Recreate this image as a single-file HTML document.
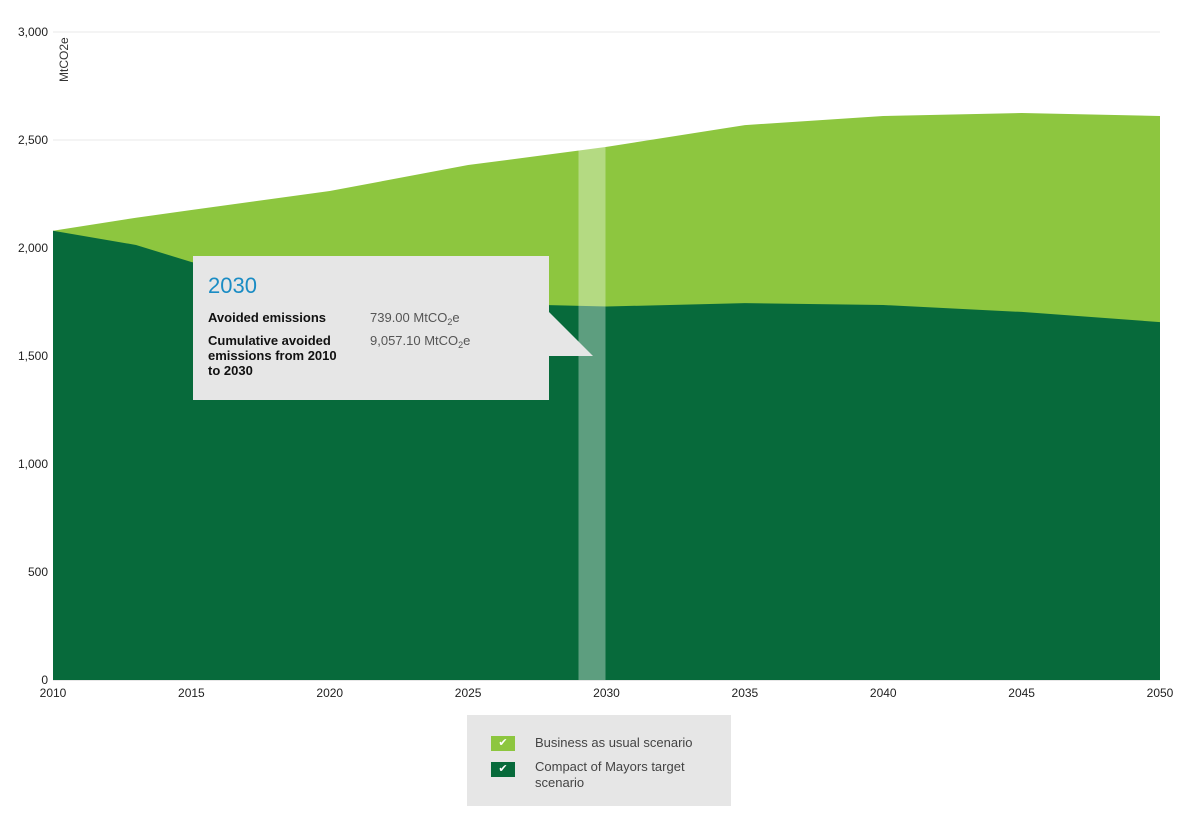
<!DOCTYPE html>
<html><head><meta charset="utf-8"><style>
body{margin:0;background:#fff;font-family:"Liberation Sans","DejaVu Sans",sans-serif;}
#wrap{position:relative;width:1189px;height:837px;overflow:hidden;}
svg text{font-family:"Liberation Sans","DejaVu Sans",sans-serif;}
</style></head><body><div id="wrap">
<svg id="chart" width="1189" height="837"></svg>
</div>
<script>
const years=[2010,2013,2015,2020,2025,2030,2035,2040,2045,2050];
const bau=[2080,2140,2176,2264,2384,2468,2569,2611,2625,2611];
const com=[2080,2014,1935,1800,1745,1729,1745,1736,1704,1657];
const yTicks=[0,500,1000,1500,2000,2500,3000];
const xTicks=[2010,2015,2020,2025,2030,2035,2040,2045,2050];
const NS='http://www.w3.org/2000/svg';
const svg=document.getElementById('chart');
const X=v=>53+(v-2010)*(1160-53)/40;
const Y=v=>680-v*(648/3000);
function el(t,a,p){const e=document.createElementNS(NS,t);for(const k in a)e.setAttribute(k,a[k]);(p||svg).appendChild(e);return e;}
yTicks.forEach(t=>{
 const l=el('line',{x1:53,x2:1160,y1:Y(t),y2:Y(t),stroke:t==0?'#ccc':'#e8e8e8','stroke-width':1});
 
 
 const tx=el('text',{x:48,y:Y(t)+4,'text-anchor':'end','font-size':12,fill:'#222'});tx.textContent=t.toLocaleString('en-US');
 
 
});
function area(vals,fill,name){
 let d='M'+X(years[0])+','+Y(0);
 years.forEach((y,i)=>d+=' L'+X(y)+','+Y(vals[i]));
 d+=' L'+X(years[years.length-1])+','+Y(0)+'Z';
 const p=el('path',{d:d,fill:fill});
 
 
}
area(bau,'#8dc63f','bau-area');
area(com,'#076a3b','com-area');
xTicks.forEach(t=>{
 const tx=el('text',{x:X(t),y:697,'text-anchor':'middle','font-size':12,fill:'#222'});tx.textContent=t;
 
 
});
const yt=el('text',{transform:'translate(68,82) rotate(-90)','font-size':12,fill:'#333'});yt.textContent='MtCO2e';


const hi=5;const hb=el('rect',{x:X(2030)-28,y:Y(bau[hi]),width:27,height:680-Y(bau[hi]),fill:'rgba(255,255,255,0.35)'});


// tooltip
const tg=el('g',{});


el('path',{d:'M193,256 H549 V312 L593,356 L549,356 V400 H193 Z',fill:'#e6e6e6'},tg);
function t(x,y,s,o,txt){const e=el('text',Object.assign({x:x,y:y,'font-size':s},o),tg);e.innerHTML=txt;return e;}
t(208,293,22,{fill:'#1a8cc4'},'2030');
t(208,322,13,{fill:'#111','font-weight':'bold'},'Avoided emissions');
t(208,345,13,{fill:'#111','font-weight':'bold'},'Cumulative avoided');
t(208,360,13,{fill:'#111','font-weight':'bold'},'emissions from 2010');
t(208,375,13,{fill:'#111','font-weight':'bold'},'to 2030');
t(370,322,13,{fill:'#555'},'739.00 MtCO<tspan font-size="9" dy="3">2</tspan><tspan dy="-3">e</tspan>');
t(370,345,13,{fill:'#555'},'9,057.10 MtCO<tspan font-size="9" dy="3">2</tspan><tspan dy="-3">e</tspan>');
</script>
<div style="position:absolute;left:467px;top:715px;width:264px;height:91px;background:#e6e6e6;font-size:13px;color:#444;">
 <div style="position:absolute;left:24px;top:20px;">
  <span style="position:absolute;left:0;top:1px;width:24px;height:15px;background:#8dc63f;color:#fff;font-size:11px;text-align:center;line-height:15px;">✔</span>
  <span style="position:absolute;left:44px;top:0;white-space:nowrap;">Business as usual scenario</span></div>
 <div style="position:absolute;left:24px;top:44px;">
  <span style="position:absolute;left:0;top:3px;width:24px;height:15px;background:#076a3b;color:#fff;font-size:11px;text-align:center;line-height:15px;">✔</span>
  <span style="position:absolute;left:44px;top:0;width:190px;line-height:16px;">Compact of Mayors target scenario</span></div>
</div>
</body></html>
